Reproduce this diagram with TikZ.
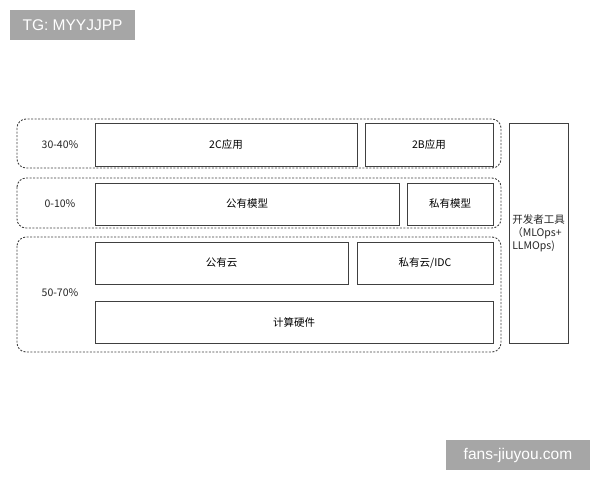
\documentclass[tikz,border=0pt]{standalone}
\usepackage{fontspec}
\setmainfont{Noto Sans CJK SC}
\newfontfamily\wmfont{Liberation Sans}
\begin{document}
\begin{tikzpicture}[x=1pt,y=-1pt,
  blk/.style={draw=black!75,line width=0.9pt,fill=white,font=\fontsize{10.5}{12}\selectfont},
  grp/.style={draw=black!75,line width=0.9pt,dash pattern=on 2pt off 1.5pt,rounded corners=9pt},
  lbl/.style={font=\fontsize{10.5}{13}\selectfont,text=black!85},
  wm/.style={fill=black!35,text=white,font=\wmfont\fontsize{15.5}{17}\selectfont,inner sep=0pt}]
\useasboundingbox (0,0) rectangle (600,480);
% watermarks
\node[wm,minimum width=125pt,minimum height=30pt] (wm1) at (72.5,25) {TG: MYYJJPP};
\node[wm,minimum width=144pt,minimum height=30pt] (wm2) at (518,455) {fans-jiuyou.com};
% groups
\draw[grp] (17,119) rectangle (501,168);
\draw[grp] (17,178) rectangle (501,228);
\draw[grp] (17,237) rectangle (501,352);
% group labels
\node[lbl] (l1) at (60,145) {30-40\%};
\node[lbl] (l2) at (60,204) {0-10\%};
\node[lbl] (l3) at (60,293) {50-70\%};
% blocks
\draw[blk] (95,123) rectangle node (b2c) {2C应用} (357,166);
\draw[blk] (365,123) rectangle node (b2b) {2B应用} (493,166);
\draw[blk] (95,183) rectangle node (pubm) {公有模型} (399,225);
\draw[blk] (407,183) rectangle node (privm) {私有模型} (493,225);
\draw[blk] (95,242) rectangle node (pubc) {公有云} (348,284);
\draw[blk] (357,242) rectangle node (privc) {私有云/IDC} (493,284);
\draw[blk] (95,301) rectangle node (hw) {计算硬件} (493,343);
\draw[blk] (509,123) rectangle (568,343);
\node[lbl,align=left,inner sep=0pt] (dev) at (538.5,233) {开发者工具\\（MLOps+\\LLMOps)};
\end{tikzpicture}
\end{document}
